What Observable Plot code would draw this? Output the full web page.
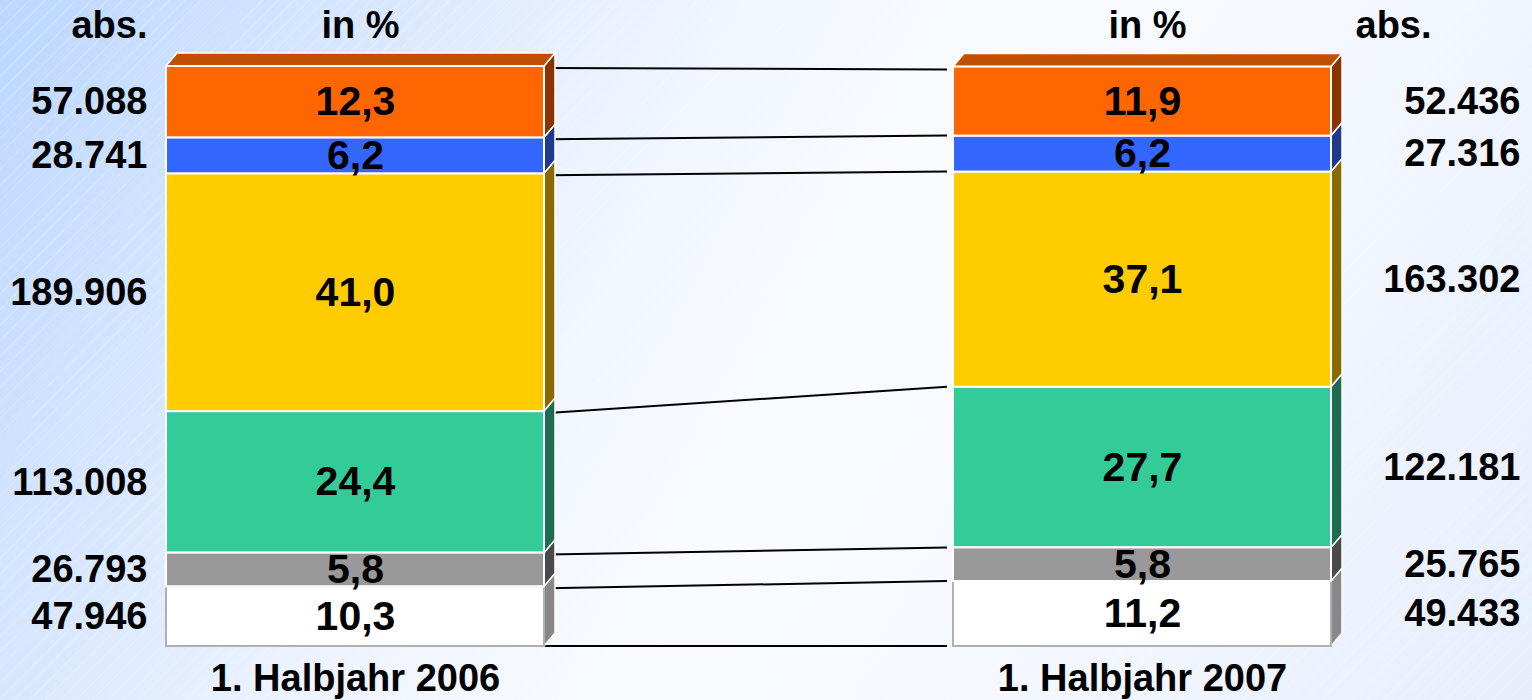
<!DOCTYPE html>
<html>
<head>
<meta charset="utf-8">
<script src="https://cdn.jsdelivr.net/npm/d3@7"></script>
<script src="https://cdn.jsdelivr.net/npm/@observablehq/plot@0.6"></script>
<style>
  html, body { margin: 0; padding: 0; }
  body {
    width: 1532px; height: 700px; overflow: hidden;
    background:
      repeating-linear-gradient(135deg, rgba(255,255,255,0) 0px, rgba(255,255,255,0) 9px, rgba(255,255,255,0.22) 10px, rgba(255,255,255,0) 11px),
      linear-gradient(118deg, #bcd7ff 0%, #d6e6ff 18%, #eef4ff 36%, #f9fbff 52%, #f6f9ff 68%, #e6eefc 100%);
    font-family: "Liberation Sans", Arial, sans-serif;
  }
</style>
</head>
<body>
<div id="chart"></div>
<script>
// ---- data ----
const periods = ["1. Halbjahr 2006", "1. Halbjahr 2007"];
// segments from bottom to top
const segments = ["weiß", "grau", "grün", "gelb", "blau", "orange"];
const pct2006 = [10.3, 5.8, 24.4, 41.0, 6.2, 12.3];
const pct2007 = [11.2, 5.8, 27.7, 37.1, 6.2, 11.9];
const abs2006 = [47946, 26793, 113008, 189906, 28741, 57088];
const abs2007 = [49433, 25765, 122181, 163302, 27316, 52436];
const frontColors = ["#ffffff", "#999999", "#33cc99", "#ffcc00", "#3366ff", "#ff6600"];
const sideColors  = ["#888888", "#4a4a4a", "#1d6b50", "#8a6a00", "#1f3a8a", "#8a3300"];
const topColor = "#c05000";
const headerPct = "in %";
const headerAbs = "abs.";

// ---- derived table ----
const locale = d3.formatLocale({decimal: ",", thousands: ".", grouping: [3], currency: ["", "€"]});
const fmtAbs = locale.format(",d");
const fmtPct = v => v.toFixed(1).replace(".", ",");

function build(period, pcts, abss) {
  let c = 0;
  return segments.map((s, i) => {
    const y1 = c; c += pcts[i];
    return {period, seg: s, i, pct: pcts[i], abs: abss[i], y1, y2: c};
  });
}
const rows = [...build(periods[0], pct2006, abs2006), ...build(periods[1], pct2007, abs2007)];
const rows06 = rows.filter(d => d.period === periods[0]);
const rows07 = rows.filter(d => d.period === periods[1]);
// boundaries for connecting lines
const bounds = [0, ...rows06.map(d => d.y2)].map((b, k) => ({b06: b, b07: k === 0 ? 0 : rows07[k - 1].y2}));

const DX = 11, DY = -13; // 3D depth

function bw(sx) {
  return typeof sx.bandwidth === "function" ? sx.bandwidth() : sx.bandwidth;
}

// side + top faces
function faces(index, scales, values, dims) {
  const sx = scales.x, sy = scales.y, w = bw(sx);
  const g = d3.create("svg:g");
  for (const d of rows) {
    const xr = sx(d.period) + w, xl = sx(d.period);
    const yt = sy(d.y2), yb = sy(d.y1);
    g.append("path")
      .attr("d", `M${xr},${yb}L${xr},${yt}L${xr + DX},${yt + DY}L${xr + DX},${yb + DY}Z`)
      .attr("fill", sideColors[d.i]).attr("stroke", "white").attr("stroke-width", 1.5);
    if (d.i === segments.length - 1) {
      g.append("path")
        .attr("d", `M${xl},${yt}L${xl + DX},${yt + DY}L${xr + DX},${yt + DY}L${xr},${yt}Z`)
        .attr("fill", topColor).attr("stroke", "white").attr("stroke-width", 1.5);
    }
  }
  return g.node();
}

function links(index, scales) {
  const sx = scales.x, sy = scales.y, w = bw(sx);
  const g = d3.create("svg:g");
  const xa = sx(periods[0]) + w + 4, xb = sx(periods[1]) - 6;
  for (const b of bounds) {
    g.append("line")
      .attr("x1", b.b06 === 0 ? xa - 12 : xa).attr("y1", sy(b.b06) + (b.b06 === 0 ? 0 : 2))
      .attr("x2", xb).attr("y2", sy(b.b07) + (b.b06 >= 99 ? 3 : 0))
      .attr("stroke", "black").attr("stroke-width", 2);
  }
  return g.node();
}

const font = {fontSize: 38, fontWeight: "bold", fill: "black"};
const pctFont = {fontSize: 41, fontWeight: "bold", fill: "black"};

const chart = Plot.plot({
  width: 1532,
  height: 700,
  marginTop: 66,
  marginBottom: 54,
  marginLeft: 165,
  marginRight: 201,
  style: {background: "transparent", overflow: "visible", fontFamily: "'Liberation Sans', Arial, sans-serif"},
  x: {type: "band", domain: periods, paddingInner: 0.52, paddingOuter: 0, axis: null},
  y: {domain: [0, 100], axis: null},
  marks: [
    Plot.rect([0], {render: links}),
    Plot.rect([0], {render: faces}),
    Plot.barY(rows, {x: "period", y1: "y1", y2: "y2", fill: d => frontColors[d.i],
      stroke: d => d.i === 0 ? "#b0b0b0" : "white", strokeWidth: 2}),
    Plot.barY(rows.filter(d => d.i === 1), {x: "period", y1: "y1", y2: "y2", fill: d => frontColors[d.i],
      stroke: "white", strokeWidth: 2}),
    Plot.text(rows, {x: "period", y: d => (d.y1 + d.y2) / 2, text: d => fmtPct(d.pct), ...pctFont}),
    Plot.text(rows06, {x: "period", y: d => (d.y1 + d.y2) / 2, text: d => fmtAbs(d.abs), textAnchor: "end", dx: -208, ...font}),
    Plot.text(rows07, {x: "period", y: d => (d.y1 + d.y2) / 2, text: d => fmtAbs(d.abs), textAnchor: "end", dx: 378, ...font}),
    Plot.text(periods, {x: d => d, y: [100, 100], text: () => headerPct, dx: 5, dy: -41, ...font}),
    Plot.text([periods[0]], {x: d => d, y: [100], text: () => headerAbs, textAnchor: "end", dx: -208, dy: -41, ...font}),
    Plot.text([periods[1]], {x: d => d, y: [100], text: () => headerAbs, textAnchor: "start", dx: 213, dy: -41, ...font}),
    Plot.text(periods, {x: d => d, frameAnchor: "bottom", lineAnchor: "top", dy: 18, text: d => d, ...font})
  ]
});
document.getElementById("chart").appendChild(chart);
</script>
</body>
</html>
